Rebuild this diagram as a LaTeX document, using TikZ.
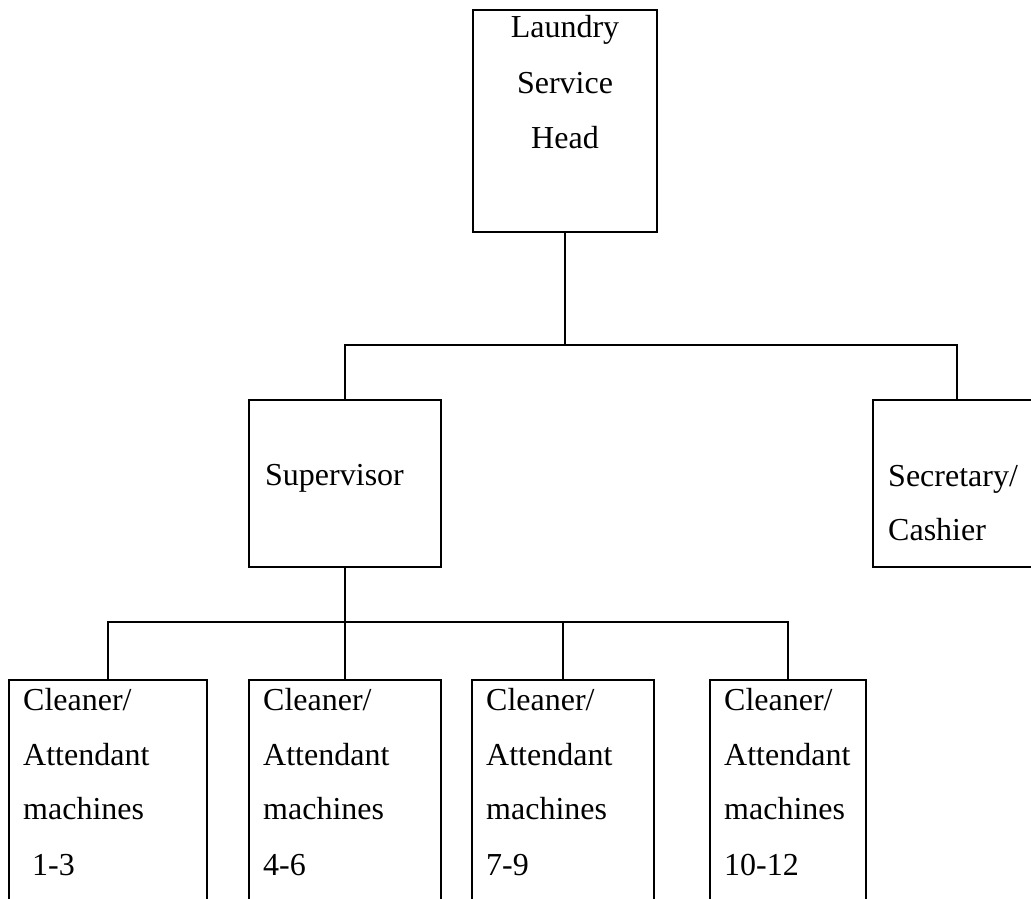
\documentclass[tikz,border=0pt]{standalone}
\usepackage{fontspec}
\setmainfont{Liberation Serif}
\begin{document}
\begin{tikzpicture}[x=1pt,y=-1pt,
  box/.style={draw=black,line width=2.2pt,rectangle,inner sep=0pt,outer sep=0pt,anchor=north west},
  conn/.style={draw=black,line width=2.2pt,line join=miter},
  lbl/.style={inner sep=0pt,anchor=base west,font=\fontsize{32}{55}\selectfont},
  clbl/.style={inner sep=0pt,anchor=base,font=\fontsize{32}{55}\selectfont}]
\useasboundingbox (0,0) rectangle (1031,899);
% boxes
\node[box,minimum width=184pt,minimum height=222pt] (head) at (473,10) {};
\node[box,minimum width=192pt,minimum height=167pt] (sup) at (249,400) {};
\node[box,draw=none,minimum width=168pt,minimum height=167pt] (sec) at (873,400) {};
\draw[conn] (1031,400) -- (sec.north west) -- (sec.south west) -- (1031,567);
\begin{scope}
\clip (0,0) rectangle (1031,899);
\node[box,minimum width=198pt,minimum height=240pt] (c1) at (9,680) {};
\node[box,minimum width=192pt,minimum height=240pt] (c2) at (249,680) {};
\node[box,minimum width=182pt,minimum height=240pt] (c3) at (472,680) {};
\node[box,minimum width=156pt,minimum height=240pt] (c4) at (710,680) {};
\end{scope}
% connectors
\coordinate (j1) at (565,345);
\coordinate (j2) at (345,622);
\draw[conn] (head.south) -- (j1);
\draw[conn] (sup.north) |- (j1) -| (sec.north);
\draw[conn] (sup.south) -- (j2);
\draw[conn] (c1.north) |- (j2) -| (c4.north);
\draw[conn] (c2.north) -- (j2);
\draw[conn] (c3.north) -- (c3.north |- j2);
% texts
\node[clbl] (t1) at (565,38) {Laundry};
\node[clbl] (t2) at (565,93) {Service};
\node[clbl] (t3) at (565,148) {Head};
\node[lbl] (t4) at (265,485) {Supervisor};
\node[lbl] (t5) at (888,486) {Secretary/};
\node[lbl] (t6) at (888,540) {Cashier};
\foreach \x/\n in {23/a, 263/b, 486/c, 724/d}{
  \node[lbl] (cl\n1) at (\x,710) {Cleaner/};
  \node[lbl] (cl\n2) at (\x,765) {Attendant};
  \node[lbl] (cl\n3) at (\x,819) {machines};
}
\node[lbl] (n1) at (32,875) {1-3};
\node[lbl] (n2) at (263,875) {4-6};
\node[lbl] (n3) at (486,875) {7-9};
\node[lbl] (n4) at (724,875) {10-12};
\end{tikzpicture}
\end{document}
